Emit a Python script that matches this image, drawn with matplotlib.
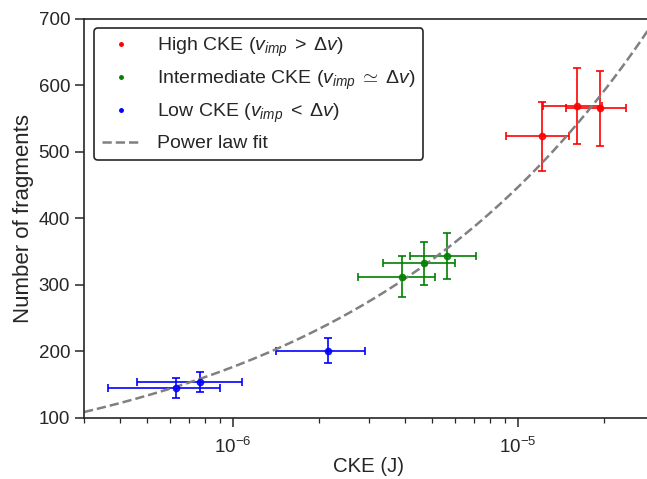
import numpy as np
import matplotlib
matplotlib.use('Agg')
import matplotlib.pyplot as plt

plt.rcParams['font.family'] = ['Liberation Sans', 'DejaVu Sans']
plt.rcParams['mathtext.fontset'] = 'custom'
plt.rcParams['mathtext.rm'] = 'Liberation Sans'
plt.rcParams['mathtext.it'] = 'Liberation Sans:italic'
plt.rcParams['mathtext.bf'] = 'Liberation Sans:bold'

# High CKE
high_x = [1.21e-5, 1.61e-5, 1.94e-5]
high_y = [523, 568, 565]
high_xlo = [9.1e-6, 1.22e-5, 1.47e-5]
high_xhi = [1.51e-5, 1.97e-5, 2.39e-5]
high_yerr = [52, 57, 56]

# Intermediate CKE
mid_x = [3.93e-6, 4.68e-6, 5.62e-6]
mid_y = [312, 332, 343]
mid_xlo = [2.75e-6, 3.37e-6, 4.17e-6]
mid_xhi = [5.11e-6, 6.01e-6, 7.11e-6]
mid_yerr = [31, 32, 34]

# Low CKE
low_x = [6.32e-7, 7.66e-7, 2.16e-6]
low_y = [144.5, 153, 201]
low_xlo = [3.64e-7, 4.59e-7, 1.415e-6]
low_xhi = [8.98e-7, 1.073e-6, 2.9e-6]
low_yerr = [14.5, 15, 19.5]

# power law fit N = A * CKE^b
fit_A = 4.65e4
fit_b = 0.4035

groups = [
    (high_x, high_y, high_xlo, high_xhi, high_yerr, 'red', r'High CKE ($v_{imp}\;>\;\Delta v$)'),
    (mid_x, mid_y, mid_xlo, mid_xhi, mid_yerr, 'green', r'Intermediate CKE ($v_{imp}\;\simeq\;\Delta v$)'),
    (low_x, low_y, low_xlo, low_xhi, low_yerr, 'blue', r'Low CKE ($v_{imp}\;<\;\Delta v$)'),
]

fig = plt.figure(figsize=(6.47, 4.79), dpi=100)
ax = fig.add_axes([84/647, 61.3/479, 570/647, 399.2/479])

for x, y, xlo, xhi, yerr, col, lab in groups:
    x = np.array(x)
    xerr = [x - np.array(xlo), np.array(xhi) - x]
    ax.errorbar(x, y, xerr=xerr, yerr=yerr, fmt='o', color=col, ms=4.5,
                elinewidth=1.4, capsize=3, capthick=1.4, alpha=0.85)
    ax.plot([], [], '.', color=col, ms=5, label=lab)

xf = np.logspace(np.log10(3e-7), np.log10(3e-5), 200)
ax.plot(xf, fit_A * xf**fit_b, '--', color='gray', lw=1.8, label='Power law fit')

ax.set_xscale('log')
ax.set_xlim(3e-7, 3e-5)
ax.set_ylim(100, 700)
ax.set_yticks([100, 200, 300, 400, 500, 600, 700])

for s in ax.spines.values():
    s.set_linewidth(1.2)
    s.set_color('#262626')
ax.tick_params(which='major', length=6.5, width=1.1, labelsize=13.5, color='#262626', labelcolor='#262626')
ax.tick_params(which='minor', length=3.5, width=0.9, color='#262626')
ax.tick_params(axis='x', which='major', pad=7)

ax.set_xlabel('CKE (J)', fontsize=14.7, color='#262626', labelpad=0)
ax.set_ylabel('Number of fragments', fontsize=16, color='#262626', labelpad=3)

leg = ax.legend(loc='upper left', fontsize=14, frameon=True, fancybox=True,
                framealpha=1, handletextpad=0.85, borderaxespad=0.5)
leg.get_frame().set_edgecolor('#262626')
leg.get_frame().set_linewidth(1.2)
for t in leg.get_texts():
    t.set_color('#262626')

fig.savefig('out.png', dpi=100)
